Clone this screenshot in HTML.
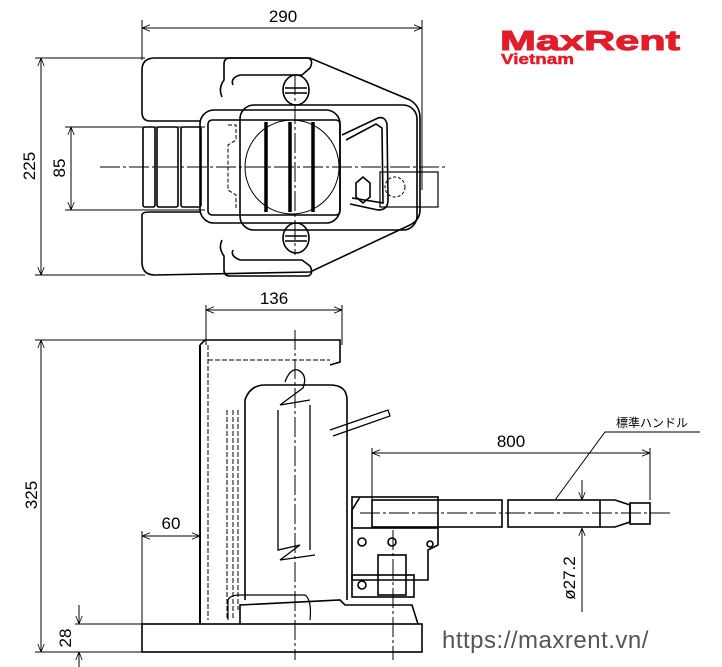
<!DOCTYPE html>
<html><head><meta charset="utf-8"><style>
html,body{margin:0;padding:0;background:#fff;width:722px;height:667px;overflow:hidden}
svg{display:block}
text{font-family:"Liberation Sans","DejaVu Sans",sans-serif}
</style></head><body>
<svg width="722" height="667" viewBox="0 0 722 667" xmlns="http://www.w3.org/2000/svg">
<defs>
<marker id="a" viewBox="0 0 10 10" refX="10" refY="5" markerWidth="8" markerHeight="8" orient="auto-start-reverse"><path d="M0,1 L10,5 L0,9" fill="none" stroke="#000" stroke-width="1"/></marker>
</defs>
<g fill="none" stroke="#000" stroke-width="1">
<line x1="142" y1="20" x2="142" y2="60"/><line x1="422" y1="20" x2="422" y2="190"/>
<line x1="142" y1="28" x2="422" y2="28" marker-start="url(#a)" marker-end="url(#a)"/>
<line x1="35" y1="58" x2="145" y2="58"/><line x1="35" y1="275" x2="145" y2="275"/>
<line x1="41" y1="58" x2="41" y2="275" marker-start="url(#a)" marker-end="url(#a)"/>
<line x1="65" y1="127" x2="205" y2="127"/><line x1="65" y1="210" x2="205" y2="210"/>
<line x1="71" y1="127" x2="71" y2="210" marker-start="url(#a)" marker-end="url(#a)"/>
<line x1="100" y1="167" x2="445" y2="167" stroke-dasharray="20 3 3 3"/>
<line x1="295" y1="75" x2="295" y2="255" stroke-dasharray="20 3 3 3"/>
</g>
<g fill="none" stroke="#000" stroke-width="1.6">
<path d="M155,58 L310,58 L410,100 Q420,106 420,118 L420,210 Q420,220 410,225 L310,272 L155,275 Q142,275 142,262 L142,215 Q142,212 150,212 L200,212 M200,121 L150,121 Q142,121 142,112 L142,70 Q142,58 155,58"/>
<path d="M222,97 Q218,88 224,80 L224,64 Q224,58 230,58 L308,58 Q314,60 310,68 L302,75 L240,75 Q230,78 233,85"/>
<path d="M222,240 Q218,248 224,256 L224,270 Q224,276 230,276 L308,276 Q314,274 310,266 L302,260 L240,260 Q230,256 233,250"/>
<ellipse cx="296" cy="90" rx="13" ry="15"/><ellipse cx="296" cy="238" rx="13" ry="15"/>
<line x1="285" y1="88" x2="307" y2="88"/><line x1="285" y1="93" x2="307" y2="93"/>
<line x1="285" y1="236" x2="307" y2="236"/><line x1="285" y1="241" x2="307" y2="241"/>
<rect x="200" y="110" width="140" height="113" rx="14"/>
<rect x="208" y="120" width="132" height="95" rx="4"/>
<rect x="240" y="105" width="177" height="125" rx="14"/>
<rect x="143" y="127" width="12" height="80" rx="2"/><rect x="157" y="127" width="21" height="80" rx="2"/><rect x="181" y="127" width="20" height="80" rx="2"/>
<circle cx="292" cy="167" r="47" stroke-width="1"/>
<line x1="266" y1="122" x2="266" y2="212" stroke-width="3.5"/><line x1="290" y1="122" x2="290" y2="212" stroke-width="3.5"/><line x1="313" y1="122" x2="313" y2="212" stroke-width="3.5"/>
<path d="M342,135 L378,118 Q385,116 387,124 L388,200 Q388,210 378,210 L350,204"/>
<path d="M346,140 L376,124 L382,128 L383,203 L352,198"/>
<rect x="380" y="172" width="58" height="35" stroke-width="1.2"/>
<polygon points="356,183 363,177 370,183 370,197 363,203 356,197"/>
<circle cx="395" cy="187" r="10" stroke-dasharray="3 2" stroke-width="1"/>
<path d="M228,125 L236,125 L236,140 L228,145 L228,190 L236,195 L236,210" stroke-dasharray="4 2" stroke-width="1"/>
</g>
<g fill="none" stroke="#000" stroke-width="1">
<line x1="206" y1="305" x2="206" y2="345"/><line x1="342" y1="305" x2="342" y2="345"/>
<line x1="206" y1="310" x2="342" y2="310" marker-start="url(#a)" marker-end="url(#a)"/>
<line x1="35" y1="340" x2="205" y2="340"/><line x1="35" y1="652" x2="142" y2="652"/>
<line x1="41" y1="340" x2="41" y2="652" marker-start="url(#a)" marker-end="url(#a)"/>
<line x1="75" y1="624" x2="142" y2="624"/>
<line x1="79" y1="605" x2="79" y2="624" marker-end="url(#a)"/><line x1="79" y1="667" x2="79" y2="652" marker-end="url(#a)"/>
<line x1="142" y1="531" x2="142" y2="624"/>
<line x1="142" y1="536" x2="200" y2="536" marker-start="url(#a)" marker-end="url(#a)"/>
<line x1="372" y1="448" x2="372" y2="500"/><line x1="650" y1="448" x2="650" y2="500"/>
<line x1="372" y1="453" x2="650" y2="453" marker-start="url(#a)" marker-end="url(#a)"/>
<polyline points="700,432 605,432 555,500"/>
<line x1="582" y1="480" x2="582" y2="500" /><line x1="582" y1="528" x2="582" y2="612"/>
<line x1="582" y1="488" x2="582" y2="500" marker-end="url(#a)"/><line x1="582" y1="540" x2="582" y2="528" marker-end="url(#a)"/>
<line x1="360" y1="513" x2="672" y2="513" stroke-dasharray="20 3 3 3"/>
<line x1="295" y1="330" x2="295" y2="660" stroke-dasharray="20 3 3 3"/>
<line x1="393" y1="530" x2="393" y2="660" stroke-dasharray="20 3 3 3"/>
</g>
<g fill="none" stroke="#000" stroke-width="1.6">
<rect x="142" y="624" width="280" height="28"/>
<line x1="200" y1="345" x2="200" y2="624" stroke-width="2"/>
<path d="M200,345 L205,340 L340,340 L340,362 L330,365"/>
<line x1="208" y1="345" x2="208" y2="620" stroke-dasharray="5 2" stroke-width="1"/>
<line x1="208" y1="360" x2="330" y2="360" stroke-dasharray="5 2" stroke-width="1"/>
<path d="M245,600 L245,400 Q250,385 265,385 L330,385 Q347,385 347,400 L347,600" />
<path d="M227,410 L227,620 M233,410 L233,620 M238,410 L238,610" stroke-dasharray="5 2" stroke-width="1"/>
<path d="M278,410 L278,550 L300,545 L280,560 L315,555 M310,405 L310,550" stroke-width="1.3"/>
<path d="M285,382 Q290,368 298,370 Q308,375 303,388 L280,405 L310,400" stroke-width="1.3"/>
<path d="M330,430 L388,410 L390,416 L333,436" stroke-width="1.2"/>
<rect x="352" y="497" width="86" height="31"/>
<path d="M360,497 L352,510 L352,580 L428,580 L428,550 L438,545 L438,528"/>
<circle cx="362" cy="542" r="4"/><circle cx="392" cy="542" r="4"/><circle cx="430" cy="544" r="3"/><circle cx="362" cy="585" r="4"/>
<rect x="378" y="555" width="28" height="40"/>
<rect x="352" y="575" width="62" height="22"/>
<path d="M240,624 L240,605 L340,600 L345,605 L412,605 L418,624"/>
<path d="M228,620 L228,600 Q230,595 240,595 L305,595 Q312,600 310,620" stroke-width="1.2"/>
<rect x="372" y="500" width="130" height="27"/>
<rect x="508" y="500" width="92" height="27"/>
<path d="M600,500 L615,500 L630,505 L630,522 L615,527 L600,527"/>
<rect x="630" y="503" width="20" height="21"/>
</g>
<g fill="#000">
<text x="283" y="22" font-size="17" text-anchor="middle">290</text>
<text x="274" y="304" font-size="17" text-anchor="middle">136</text>
<text x="511" y="447" font-size="17" text-anchor="middle">800</text>
<text x="171" y="529" font-size="17" text-anchor="middle">60</text>
<text transform="translate(35,166) rotate(-90)" font-size="17" text-anchor="middle">225</text>
<text transform="translate(65,168) rotate(-90)" font-size="17" text-anchor="middle">85</text>
<text transform="translate(37,495) rotate(-90)" font-size="17" text-anchor="middle">325</text>
<text transform="translate(71,638) rotate(-90)" font-size="17" text-anchor="middle">28</text>
<text transform="translate(575,578) rotate(-90)" font-size="17" text-anchor="middle">ø27.2</text>
<text x="616" y="427" font-size="12" font-family="'Liberation Sans','Noto Sans CJK JP',sans-serif">標準ハンドル</text>
<text x="442" y="648" font-size="24" fill="#555" letter-spacing="0.5">https://maxrent.vn/</text>
<text x="500" y="50" font-size="28" font-weight="bold" fill="#e11d2a" textLength="180" lengthAdjust="spacingAndGlyphs" stroke="#e11d2a" stroke-width="1">MaxRent</text>
<text x="501" y="64" font-size="15" font-weight="bold" fill="#e11d2a" textLength="73" lengthAdjust="spacingAndGlyphs" stroke="#e11d2a" stroke-width="0.5">Vietnam</text>
</g>
</svg>
</body></html>
